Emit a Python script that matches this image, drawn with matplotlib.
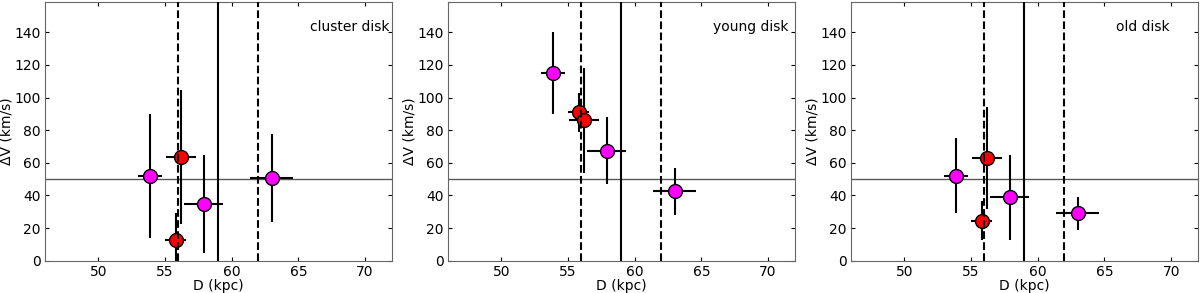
import matplotlib
matplotlib.use("Agg")
import matplotlib.pyplot as plt

# panel names
titles = ["cluster disk", "young disk", "old disk"]

# distances (kpc) and errors, same for all panels
D_mag = [53.9, 57.9, 63.0]
D_mag_err = [0.9, 1.45, 1.6]
D_red = [55.8, 56.2]
D_red_err = [0.8, 1.15]

# delta V (km/s) per panel
dv_mag = [[52, 35, 50.5], [115, 67.5, 42.5], [52, 39, 29]]
dv_mag_err = [[38, 30, 27], [25, 20.5, 14.5], [23, 26, 10]]
dv_red = [[12.5, 63.5], [91, 86], [24.5, 63]]
dv_red_err = [[17, 41], [12, 32], [12, 31]]

fig = plt.figure(figsize=(12, 2.93), dpi=100)
lefts = [0.0375, 0.3733, 0.7092]

for i in range(3):
    ax = fig.add_axes([lefts[i], 0.11, 0.289, 0.883])
    ax.axhline(50, color="0.35", lw=1, zorder=1)
    ax.errorbar(D_mag, dv_mag[i], xerr=D_mag_err, yerr=dv_mag_err[i], fmt="o",
                color="black", mfc="magenta", mec="black", ms=10, elinewidth=1.5,
                capsize=0, zorder=2)
    ax.errorbar(D_red, dv_red[i], xerr=D_red_err, yerr=dv_red_err[i], fmt="o",
                color="black", mfc="red", mec="black", ms=10, elinewidth=1.5,
                capsize=0, zorder=2)
    ax.axvline(59, color="black", lw=1.5, zorder=4)
    ax.axvline(56, color="black", lw=1.5, ls="--", zorder=4)
    ax.axvline(62, color="black", lw=1.5, ls="--", zorder=4)
    ax.text(65.85, 143, titles[i], ha="left", va="center", fontsize=10)
    ax.set_xlim(46, 72)
    ax.set_ylim(0, 158.5)
    ax.set_xticks([50, 55, 60, 65, 70])
    ax.set_yticks([0, 20, 40, 60, 80, 100, 120, 140])
    ax.tick_params(direction="in", top=True, right=True, labelsize=10, length=3, pad=3)
    for s in ax.spines.values():
        s.set_color("0.4")
    ax.set_xlabel("D (kpc)", fontsize=10, labelpad=0)
    ax.set_ylabel("ΔV (km/s)", fontsize=10, labelpad=1)

plt.savefig("out.png", dpi=100)
